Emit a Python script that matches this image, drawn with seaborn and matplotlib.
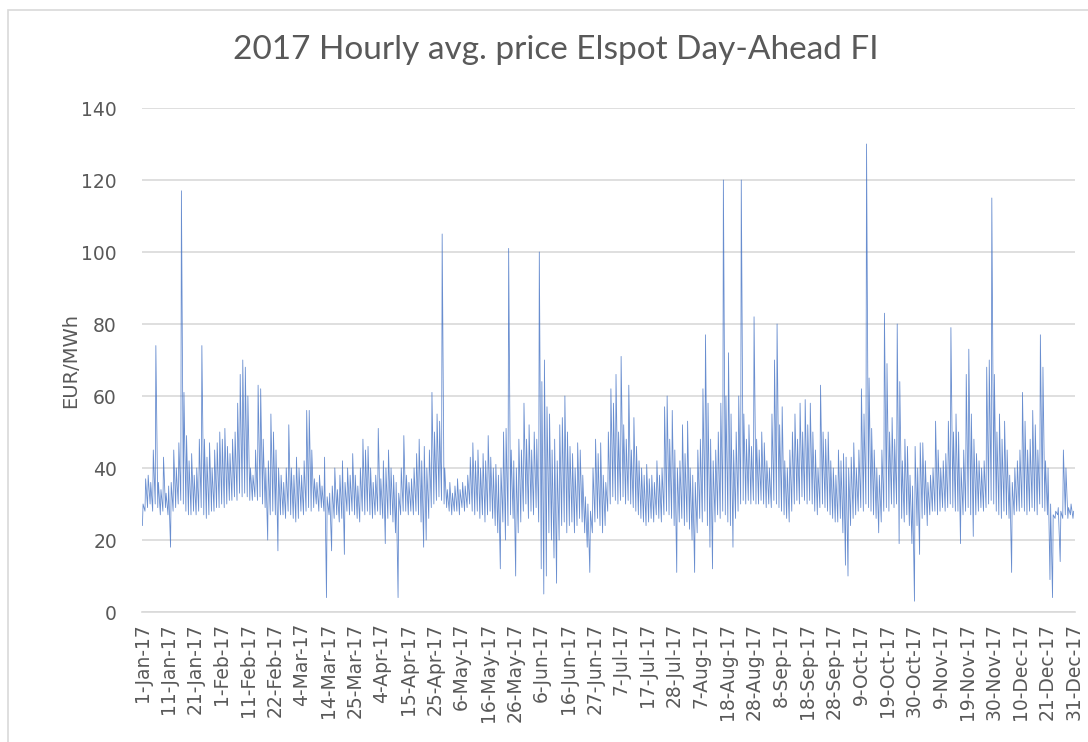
import matplotlib
matplotlib.use("Agg")
import matplotlib.pyplot as plt
import seaborn as sns
import pandas as pd

# ---- data (EUR/MWh): daily night low and daily peak ----
daily_low = [
    24, 28, 29, 30, 28, 30, 29, 27, 28, 29, 27, 18, 28, 29, 30, 31, 30, 28, 27, 27,
    28, 27, 28, 29, 27, 26, 27, 28, 28, 29, 29, 30, 29, 30, 31, 31, 32, 31, 33, 32,
    33, 32, 31, 31, 32, 31, 32, 30, 29, 20, 27, 28, 27, 17, 27, 27, 26, 28, 27, 26,
    25, 26, 28, 27, 28, 29, 28, 29, 30, 28, 29, 28, 4, 27, 17, 26, 27, 25, 26, 16,
    28, 27, 28, 27, 26, 25, 28, 27, 28, 27, 26, 27, 28, 27, 26, 19, 26, 27, 25, 22,
    4, 27, 28, 28, 27, 28, 27, 28, 27, 25, 18, 20, 26, 29, 30, 31, 32, 31, 30, 29,
    28, 27, 28, 28, 27, 29, 28, 29, 30, 28, 27, 28, 26, 27, 25, 27, 28, 26, 24, 22,
    12, 25, 20, 24, 27, 26, 10, 22, 25, 28, 30, 26, 28, 27, 29, 25, 12, 5, 10, 22,
    20, 15, 8, 20, 24, 25, 22, 24, 25, 22, 24, 26, 25, 22, 18, 11, 22, 25, 26, 24,
    22, 24, 28, 30, 32, 31, 30, 31, 32, 30, 31, 30, 29, 28, 27, 26, 25, 24, 25, 26,
    25, 27, 26, 25, 27, 28, 27, 26, 24, 11, 25, 26, 24, 25, 23, 20, 11, 22, 26, 25,
    28, 24, 18, 12, 25, 27, 26, 28, 27, 25, 24, 18, 26, 28, 30, 31, 30, 31, 30, 31,
    30, 30, 31, 30, 29, 30, 29, 31, 30, 29, 28, 27, 26, 25, 28, 30, 31, 30, 32, 31,
    30, 31, 30, 28, 27, 29, 30, 29, 28, 27, 26, 25, 25, 26, 22, 13, 10, 24, 26, 27,
    28, 29, 28, 30, 29, 28, 27, 26, 22, 25, 28, 29, 28, 30, 29, 30, 19, 26, 25, 27,
    24, 19, 3, 24, 16, 26, 27, 24, 27, 28, 28, 27, 28, 29, 28, 29, 30, 29, 28, 28,
    19, 27, 28, 29, 27, 21, 27, 28, 29, 28, 29, 30, 31, 30, 28, 27, 26, 28, 27, 26,
    11, 27, 28, 28, 29, 28, 27, 28, 29, 28, 27, 30, 29, 28, 27, 9, 4, 26, 27, 14,
    26, 27, 26, 27, 26,
]
daily_high = [
    30, 37, 38, 36, 45, 74, 36, 34, 43, 33, 35, 36, 45, 40, 47, 117, 61, 49, 42, 44,
    38, 40, 48, 74, 48, 43, 47, 40, 45, 47, 50, 48, 51, 46, 44, 48, 50, 58, 66, 70,
    68, 60, 40, 38, 45, 63, 62, 48, 40, 42, 55, 50, 45, 40, 38, 36, 40, 52, 40, 38,
    43, 40, 38, 42, 56, 56, 45, 37, 36, 38, 35, 43, 32, 33, 35, 40, 34, 38, 42, 36,
    40, 38, 44, 38, 35, 40, 48, 45, 46, 40, 36, 38, 51, 37, 42, 40, 45, 40, 38, 36,
    33, 40, 49, 38, 36, 37, 40, 44, 48, 42, 46, 40, 45, 61, 50, 55, 53, 105, 40, 34,
    36, 33, 35, 37, 34, 36, 35, 38, 43, 47, 42, 45, 40, 44, 42, 49, 43, 40, 41, 38,
    40, 50, 51, 101, 45, 42, 40, 48, 45, 58, 48, 52, 45, 50, 48, 100, 64, 70, 57, 55,
    45, 48, 42, 52, 54, 60, 50, 46, 44, 40, 47, 45, 38, 32, 30, 28, 40, 48, 44, 47,
    38, 36, 50, 62, 58, 66, 50, 71, 52, 48, 63, 45, 54, 46, 42, 40, 38, 41, 37, 38,
    36, 42, 38, 40, 57, 60, 48, 56, 45, 40, 42, 52, 44, 53, 40, 38, 36, 45, 48, 62,
    77, 58, 48, 42, 45, 50, 58, 120, 60, 72, 55, 45, 50, 60, 120, 55, 48, 52, 46, 82,
    48, 45, 50, 47, 42, 40, 55, 70, 80, 52, 57, 42, 40, 45, 50, 55, 48, 58, 50, 59,
    52, 58, 50, 45, 40, 63, 50, 48, 50, 42, 40, 38, 45, 42, 44, 43, 40, 43, 47, 40,
    45, 62, 55, 130, 65, 51, 45, 40, 38, 45, 83, 69, 50, 54, 48, 80, 64, 42, 48, 46,
    38, 35, 46, 40, 47, 47, 42, 36, 38, 40, 53, 45, 40, 42, 44, 53, 79, 50, 55, 50,
    40, 45, 66, 73, 55, 48, 44, 42, 40, 42, 68, 70, 115, 66, 50, 55, 48, 53, 45, 38,
    36, 40, 42, 45, 61, 53, 45, 48, 56, 52, 45, 77, 68, 42, 40, 30, 27, 28, 29, 28,
    45, 40, 29, 30, 28,
]
tick_labels = [
    "1-Jan-17", "11-Jan-17", "21-Jan-17", "1-Feb-17", "11-Feb-17", "22-Feb-17",
    "4-Mar-17", "14-Mar-17", "25-Mar-17", "4-Apr-17", "15-Apr-17", "25-Apr-17",
    "6-May-17", "16-May-17", "26-May-17", "6-Jun-17", "16-Jun-17", "27-Jun-17",
    "7-Jul-17", "17-Jul-17", "28-Jul-17", "7-Aug-17", "18-Aug-17", "28-Aug-17",
    "8-Sep-17", "18-Sep-17", "28-Sep-17", "9-Oct-17", "19-Oct-17", "30-Oct-17",
    "9-Nov-17", "19-Nov-17", "30-Nov-17", "10-Dec-17", "21-Dec-17", "31-Dec-17",
]
y_ticks = [0, 20, 40, 60, 80, 100, 120, 140]

# hourly category axis: low at 04:00, peak at 10:00 of each day
hours, prices = [], []
for d, (lo, hi) in enumerate(zip(daily_low, daily_high)):
    hours += [24 * d + 4, 24 * d + 10]
    prices += [lo, hi]
df = pd.DataFrame({"hour": hours, "price": prices})

sns.set_theme(style="white")
plt.rcParams["font.family"] = ["DejaVu Sans"]

fig = plt.figure(figsize=(10.88, 7.42), dpi=100)
ax = fig.add_axes([142 / 1088, 1 - 612 / 742, (1075 - 142) / 1088, (612 - 108) / 742])

sns.lineplot(data=df, x="hour", y="price", ax=ax, color="#4472C4",
             linewidth=0.6, alpha=0.8, estimator=None, sort=False)

ax.set_xlim(0, 8759)
ax.set_ylim(0, 140)
ax.set_yticks(y_ticks)
ax.set_yticklabels([str(v) for v in y_ticks], fontsize=13.5, color="#595959")
ax.set_xticks([250 * i for i in range(len(tick_labels))])
ax.set_xticklabels(tick_labels, rotation=90, fontsize=13.5, color="#595959")
ax.tick_params(axis="both", length=0)
ax.tick_params(axis="x", pad=8)
ax.tick_params(axis="y", pad=18)
ax.grid(axis="y", color="#D9D9D9", linewidth=1.2)
ax.grid(axis="x", visible=False)
ax.set_axisbelow(True)
for s in ["top", "right", "left"]:
    ax.spines[s].set_visible(False)
ax.spines["bottom"].set_color("#D9D9D9")
ax.spines["bottom"].set_linewidth(1.2)
ax.set_xlabel("")
ax.set_ylabel("EUR/MWh", fontsize=14, color="#595959")
ax.yaxis.set_label_coords((80 - 142) / 933, 0.5)

fig.text(556 / 1088, 1 - 50 / 742, "2017 Hourly avg. price Elspot Day-Ahead FI",
         ha="center", va="center", fontsize=24, color="#595959", family=["Lato", "DejaVu Sans"])

# chart-area border
border = plt.Rectangle((8 / 1088, -0.05), 1.2, 1 - 10 / 742 + 0.05, transform=fig.transFigure,
                       fill=False, edgecolor="#D9D9D9", linewidth=1.2)
fig.patches.append(border)

fig.savefig("out.png", dpi=100)
